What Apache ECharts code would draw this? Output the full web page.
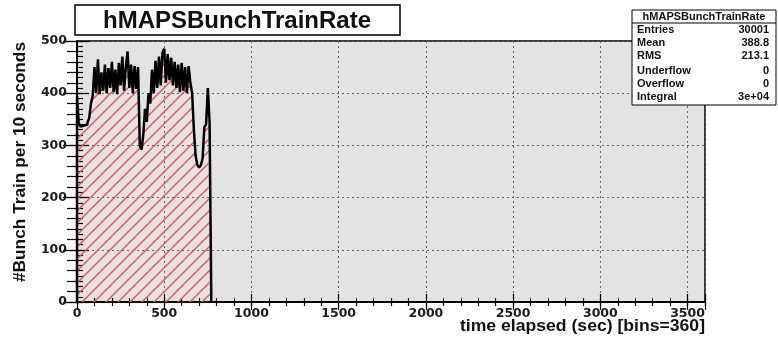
<!DOCTYPE html>
<html><head><meta charset="utf-8">
<script src="https://cdn.jsdelivr.net/npm/echarts@6/dist/echarts.min.js"></script>
<style>html,body{margin:0;padding:0;background:#fff}#c{width:778px;height:338px}</style>
</head><body><div id="c"></div>
<script>
// ---- data ----
const histTitle = 'hMAPSBunchTrainRate';
const xTitle = 'time elapsed (sec) [bins=360]';
const yTitle = '#Bunch Train per 10 seconds';
const binWidth = 10;
const xMax = 3600;
const yMax = 500;
const binValues = [
  395, 342, 336, 338, 335, 340, 344, 352, 380, 395,
  450, 400, 465, 398, 440, 405, 455, 400, 448, 410,
  460, 402, 445, 398, 458, 415, 470, 405, 450, 480,
  410, 455, 400, 452, 408, 450, 300, 292, 320, 370,
  345, 400, 380, 445, 400, 462, 410, 470, 415, 478,
  485, 420, 475, 425, 468, 415, 460, 410, 455, 402,
  458, 405, 450, 400, 452, 420, 400, 330, 280, 262,
  258, 262, 275, 335, 340, 410, 345
];
const xTickLabels = [0, 500, 1000, 1500, 2000, 2500, 3000, 3500];
const yTickLabels = [0, 100, 200, 300, 400, 500];
const statsLabels = ['Entries', 'Mean', 'RMS', 'Underflow', 'Overflow', 'Integral'];
const statsValues = ['30001', '388.8', '213.1', '0', '0', '3e+04'];

// ---- build step outline from bins ----
const stepData = [[0, 0]];
binValues.forEach((v, i) => stepData.push([i * binWidth, v]));
stepData.push([binValues.length * binWidth, binValues[binValues.length - 1]]);
stepData.push([binValues.length * binWidth, 0]);

// hatch pattern
const pc = document.createElement('canvas');
pc.width = 12; pc.height = 12;
const g = pc.getContext('2d');
g.strokeStyle = '#f05555'; g.lineWidth = 1.5;
g.beginPath(); g.moveTo(-2, 14); g.lineTo(14, -2); g.stroke();
g.beginPath(); g.moveTo(-2, 2); g.lineTo(2, -2); g.stroke();
g.beginPath(); g.moveTo(10, 14); g.lineTo(14, 10); g.stroke();

const labelFont = { fontFamily: 'DejaVu Sans', fontWeight: 'bold', fontSize: 12.5, color: '#1a1a1a' };
const tickStyle = { color: '#000', width: 1.2 };

function xAx(pos, interval, len, labels, split) {
  return {
    type: 'value', min: 0, max: xMax, interval: interval, position: pos,
    axisLine: { show: true, lineStyle: { color: '#000', width: 1.5 } },
    axisTick: { show: true, inside: true, length: len, lineStyle: tickStyle },
    axisLabel: labels ? Object.assign({ margin: 5, formatter: v => xTickLabels.includes(v) ? String(v) : '' }, labelFont) : { show: false },
    splitLine: split ? { show: true, lineStyle: { color: '#666', type: [2, 3], width: 1 } } : { show: false }
  };
}
function yAx(pos, interval, len, labels, split) {
  return {
    type: 'value', min: 0, max: yMax, interval: interval, position: pos,
    axisLine: { show: true, lineStyle: { color: '#000', width: 1.5 } },
    axisTick: { show: true, inside: true, length: len, lineStyle: tickStyle },
    axisLabel: labels ? Object.assign({ margin: 10, formatter: v => yTickLabels.includes(v) ? String(v) : '' }, labelFont) : { show: false },
    splitLine: split ? { show: true, lineStyle: { color: '#666', type: [2, 3], width: 1 } } : { show: false }
  };
}

const statsGraphics = [];
const statsRowY = [30, 43, 56, 71, 84, 97];
statsLabels.forEach((lab, i) => {
  statsGraphics.push({ type: 'text', x: 637, y: statsRowY[i], z: 102,
    style: { text: lab, font: 'bold 11px "Liberation Sans"', fill: '#111', textAlign: 'left', textVerticalAlign: 'middle' } });
  statsGraphics.push({ type: 'text', x: 769, y: statsRowY[i], z: 102,
    style: { text: statsValues[i], font: 'bold 11px "Liberation Sans"', fill: '#111', textAlign: 'right', textVerticalAlign: 'middle' } });
});

const chart = echarts.init(document.getElementById('c'), null, { renderer: 'canvas' });
chart.setOption({
  animation: false,
  backgroundColor: '#fff',
  grid: { left: 77, right: 73, top: 41, bottom: 36, show: true, backgroundColor: '#e3e3e3', borderColor: '#000', borderWidth: 1.5 },
  xAxis: [
    xAx('bottom', 500, 8, true, true),
    xAx('bottom', 100, 4, false, false),
    xAx('top', 500, 8, false, false),
    xAx('top', 100, 4, false, false)
  ],
  yAxis: [
    yAx('left', 100, 12, true, true),
    yAx('left', 10, 6, false, false),
    yAx('right', 100, 14, false, false),
    yAx('right', 20, 10, false, false)
  ],
  series: [{
    type: 'line', step: 'end', xAxisIndex: 0, yAxisIndex: 0,
    data: stepData, showSymbol: false, symbol: 'none',
    lineStyle: { color: '#000', width: 2.5 },
    areaStyle: { color: { image: pc, repeat: 'repeat' }, opacity: 1 },
    z: 3
  }],
  graphic: [
    { type: 'rect', shape: { x: 75, y: 5, width: 325, height: 30 }, z: 100,
      style: { fill: '#fff', stroke: '#000', lineWidth: 1.5 } },
    { type: 'text', x: 237, y: 21, z: 101,
      style: { text: histTitle, font: 'bold 24px "Liberation Sans"', fill: '#111', textAlign: 'center', textVerticalAlign: 'middle' } },
    { type: 'text', x: 705, y: 327, z: 101, scaleX: 1.1,
      style: { text: xTitle, font: 'bold 16px "Liberation Sans"', fill: '#111', textAlign: 'right', textVerticalAlign: 'middle' } },
    { type: 'text', x: 21, y: 162, rotation: Math.PI / 2, scaleX: 1.08, z: 101,
      style: { text: yTitle, font: 'bold 16px "Liberation Sans"', fill: '#111', textAlign: 'center', textVerticalAlign: 'middle' } },
    { type: 'rect', shape: { x: 632, y: 10, width: 144, height: 95 }, z: 100,
      style: { fill: '#fff', stroke: '#000', lineWidth: 1 } },
    { type: 'line', shape: { x1: 632, y1: 23, x2: 776, y2: 23 }, z: 101, style: { stroke: '#000', lineWidth: 1 } },
    { type: 'text', x: 704, y: 16.5, z: 101,
      style: { text: histTitle, font: 'bold 11px "Liberation Sans"', fill: '#111', textAlign: 'center', textVerticalAlign: 'middle' } }
  ].concat(statsGraphics)
});
</script>
</body></html>
